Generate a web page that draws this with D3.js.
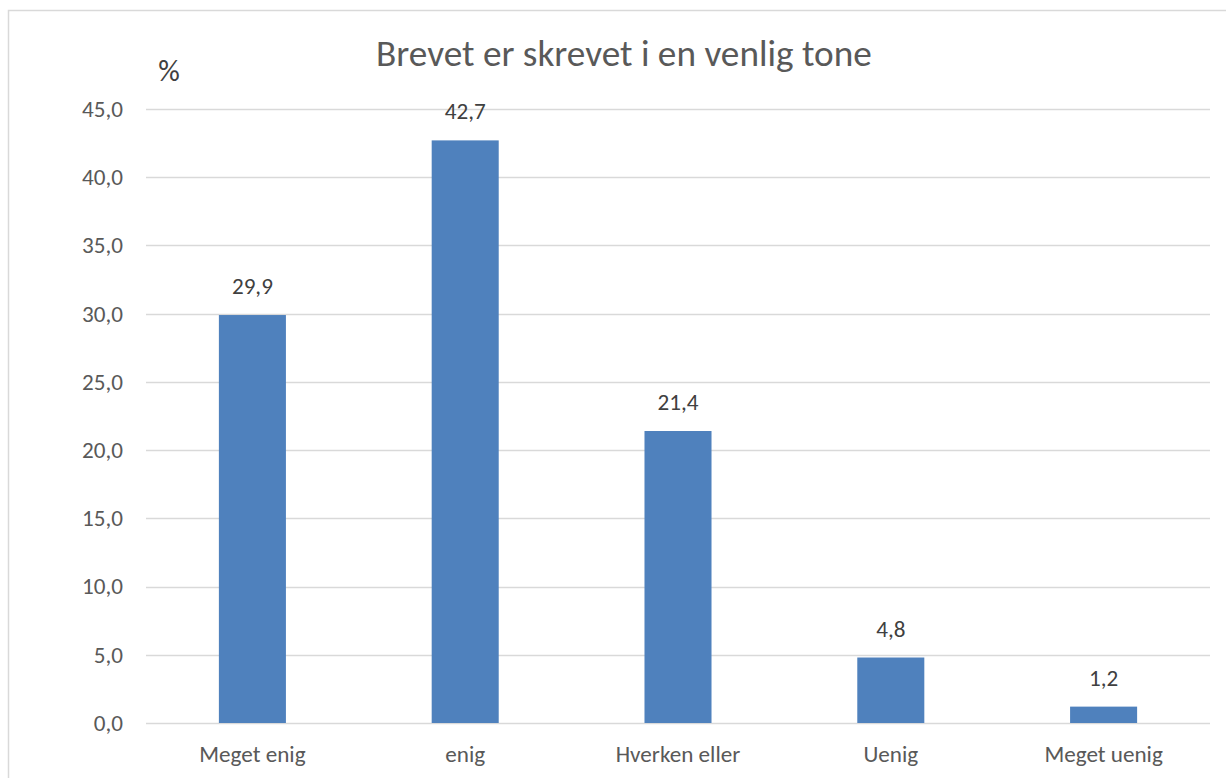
<!DOCTYPE html>
<html>
<head>
<meta charset="utf-8">
<script src="https://cdn.jsdelivr.net/npm/d3@7"></script>
<style>
  html, body { margin: 0; padding: 0; background: #ffffff; }
  svg { display: block; }
  text { font-family: Carlito, "Open Sans", "Noto Sans", sans-serif; }
</style>
</head>
<body>
<svg id="chart" width="1226" height="778"></svg>
<script>
const categories = ["Meget enig", "enig", "Hverken eller", "Uenig", "Meget uenig"];
const values = [29.9, 42.7, 21.4, 4.8, 1.2];
const yTicks = [0, 5, 10, 15, 20, 25, 30, 35, 40, 45];
const titleText = "Brevet er skrevet i en venlig tone";
const yUnit = "%";

const W = 1226, H = 778;
const svg = d3.select("#chart");
const fmt = v => d3.format(".1f")(v).replace(".", ",");

// outer chart border
svg.append("rect")
  .attr("x", 8.5).attr("y", 10.5)
  .attr("width", W + 20).attr("height", H + 20)
  .attr("fill", "#ffffff").attr("stroke", "#d9d9d9").attr("stroke-width", 1.5);

const plot = { left: 146, right: 1210, top: 109, bottom: 723 };

const x = d3.scaleBand().domain(categories)
  .range([plot.left, plot.right])
  .paddingInner(0.685).paddingOuter(0.3425);
const y = d3.scaleLinear().domain([0, 45]).range([plot.bottom, plot.top]);

// helper: find font size so that text fits target width
function fitSize(str, target, base) {
  const t = svg.append("text").attr("font-size", base).text(str);
  const w = t.node().getComputedTextLength();
  t.remove();
  return base * target / w;
}
const labelSize = fitSize("45,0", 41, 20);
const titleSize = fitSize(titleText, 496, 30);

// gridlines
svg.append("g").selectAll("line").data(yTicks).join("line")
  .attr("x1", plot.left).attr("x2", plot.right)
  .attr("y1", d => Math.round(y(d)) + 0.5).attr("y2", d => Math.round(y(d)) + 0.5)
  .attr("stroke", "#d9d9d9").attr("stroke-width", 1.5);

// y axis labels
const yAxis = d3.axisLeft(y).tickValues(yTicks).tickFormat(fmt).tickSize(0).tickPadding(0);
const gy = svg.append("g").attr("transform", `translate(123,0)`).call(yAxis);
gy.select(".domain").remove();
gy.selectAll("text").attr("font-size", labelSize).attr("fill", "#595959")
  .attr("font-family", null);

// bars
svg.append("g").selectAll("rect").data(values).join("rect")
  .attr("x", (d, i) => x(categories[i]))
  .attr("width", x.bandwidth())
  .attr("y", d => y(d))
  .attr("height", d => y(0) - y(d))
  .attr("fill", "#4f81bd");

// data labels
svg.append("g").selectAll("text").data(values).join("text")
  .attr("x", (d, i) => x(categories[i]) + x.bandwidth() / 2)
  .attr("y", d => y(d) - 21)
  .attr("text-anchor", "middle")
  .attr("font-size", labelSize)
  .attr("fill", "#404040")
  .text(d => fmt(d));

// x axis labels
const xAxis = d3.axisBottom(x).tickSize(0).tickPadding(0);
const gx = svg.append("g").attr("transform", `translate(0,${plot.bottom})`).call(xAxis);
gx.select(".domain").remove();
gx.selectAll("text").attr("font-size", labelSize).attr("fill", "#595959")
  .attr("font-family", null).attr("dy", null).attr("y", 39);

// title
svg.append("text")
  .attr("x", 624).attr("y", 66)
  .attr("text-anchor", "middle")
  .attr("font-size", titleSize)
  .attr("fill", "#595959")
  .text(titleText);

// unit label
svg.append("text")
  .attr("x", 169).attr("y", 81)
  .attr("text-anchor", "middle")
  .attr("font-size", labelSize * 1.3)
  .attr("fill", "#404040")
  .text(yUnit);
</script>
</body>
</html>
